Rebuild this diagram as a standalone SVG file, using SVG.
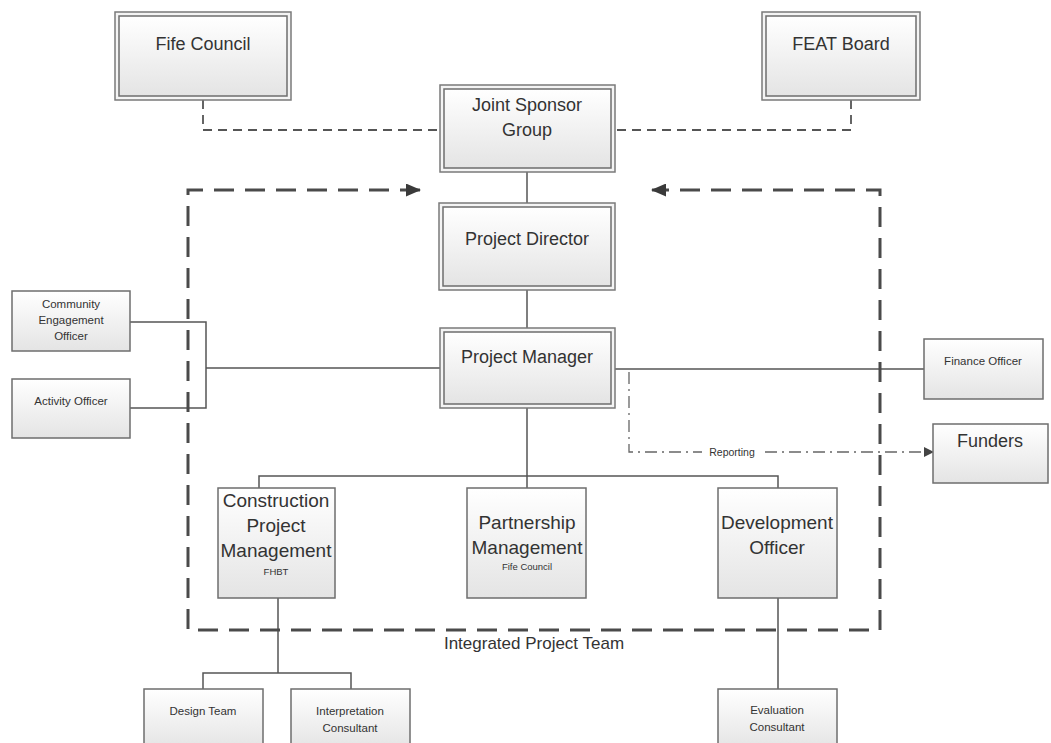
<svg xmlns="http://www.w3.org/2000/svg" width="1051" height="743" viewBox="0 0 1051 743">
<defs>
<linearGradient id="g" x1="0" y1="0" x2="0" y2="1">
<stop offset="0" stop-color="#ffffff"/>
<stop offset="1" stop-color="#e4e4e4"/>
</linearGradient>
<marker id="bigArrow" markerWidth="15" markerHeight="13" refX="14" refY="6.5" orient="auto" markerUnits="userSpaceOnUse">
<path d="M0,0 L15,6.5 L0,13 Z" fill="#3a3a3a"/>
</marker>
<marker id="smallArrow" markerWidth="10" markerHeight="10" refX="9" refY="5" orient="auto" markerUnits="userSpaceOnUse">
<path d="M0,0 L10,5 L0,10 Z" fill="#444"/>
</marker>
</defs>
<style>
.box{fill:url(#g);stroke:#6e6e6e;stroke-width:1.5}
.outer{fill:#f4f4f4;stroke:#7a7a7a;stroke-width:1.5}
.t{font-family:"Liberation Sans",Arial,sans-serif;fill:#333;text-anchor:middle}
.big{font-size:18px}
.mid{font-size:19px}
.sm{font-size:11.5px}
.xs{font-size:9.5px}
.line{fill:none;stroke:#555;stroke-width:1.5}
.dash{fill:none;stroke:#555;stroke-width:1.8;stroke-dasharray:9 6}
.ipt{fill:none;stroke:#4a4a4a;stroke-width:3;stroke-dasharray:20 11}
.rep{fill:none;stroke:#666;stroke-width:1.3;stroke-dasharray:12 5 2 5}
</style>
<rect width="1051" height="743" fill="#ffffff"/>

<g id="connectors">
<path class="dash" d="M203,100 V130 H440"/>
<path class="dash" d="M851,100 V130 H615"/>
<path class="line" d="M527,172 V203"/>
<path class="line" d="M527,290 V328"/>
<path class="line" d="M130,322 H206 V408 H130"/>
<path class="line" d="M206,368 H440"/>
<path class="line" d="M615,369 H924"/>
<path class="line" d="M527,408 V476"/>
<path class="line" d="M259,488 V476 H778 V488"/>
<path class="line" d="M527,476 V488"/>
<path class="line" d="M278,598 V673"/>
<path class="line" d="M203,689 V673 H351 V689"/>
<path class="line" d="M778,598 V689"/>
<path class="ipt" d="M420,190 H188 V630 H880 V190 H652"/>
<path d="M300,190 H420" fill="none" stroke="none" marker-end="url(#bigArrow)"/>
<path d="M760,190 H652" fill="none" stroke="none" marker-end="url(#bigArrow)"/>
<path class="rep" d="M629,372 V452 H933" marker-end="url(#smallArrow)"/>
<rect x="702" y="445" width="60" height="14" fill="#ffffff"/>
<text class="t" x="732" y="456" font-size="10.5px">Reporting</text>
<text class="t" x="534" y="649" font-size="17px">Integrated Project Team</text>
</g>

<g id="fife-council">
<rect class="outer" x="115" y="12" width="176" height="88"/>
<rect class="box" x="119" y="16" width="168" height="80"/>
<text class="t big" x="203" y="50">Fife Council</text>
</g>
<g id="feat-board">
<rect class="outer" x="762" y="12" width="158" height="88"/>
<rect class="box" x="766" y="16" width="150" height="80"/>
<text class="t big" x="841" y="50">FEAT Board</text>
</g>
<g id="joint-sponsor-group">
<rect class="outer" x="440" y="85" width="175" height="87"/>
<rect class="box" x="444" y="89" width="167" height="79"/>
<text class="t big" x="527" y="111">Joint Sponsor</text>
<text class="t big" x="527" y="136">Group</text>
</g>
<g id="project-director">
<rect class="outer" x="439" y="203" width="176" height="87"/>
<rect class="box" x="443" y="207" width="168" height="79"/>
<text class="t big" x="527" y="245">Project Director</text>
</g>
<g id="project-manager">
<rect class="outer" x="440" y="328" width="175" height="80"/>
<rect class="box" x="444" y="332" width="167" height="72"/>
<text class="t big" x="527" y="363">Project Manager</text>
</g>
<g id="community-engagement-officer">
<rect class="box" x="12" y="291" width="118" height="60"/>
<text class="t sm" x="71" y="308">Community</text>
<text class="t sm" x="71" y="324">Engagement</text>
<text class="t sm" x="71" y="340">Officer</text>
</g>
<g id="activity-officer">
<rect class="box" x="12" y="379" width="118" height="59"/>
<text class="t sm" x="71" y="405">Activity Officer</text>
</g>
<g id="finance-officer">
<rect class="box" x="924" y="339" width="119" height="60"/>
<text class="t sm" x="983" y="365">Finance Officer</text>
</g>
<g id="funders">
<rect class="box" x="933" y="424" width="115" height="59"/>
<text class="t big" x="990" y="447">Funders</text>
</g>
<g id="construction-project-management">
<rect class="box" x="218" y="488" width="117" height="110"/>
<text class="t mid" x="276" y="507">Construction</text>
<text class="t mid" x="276" y="532">Project</text>
<text class="t mid" x="276" y="557">Management</text>
<text class="t xs" x="276" y="575">FHBT</text>
</g>
<g id="partnership-management">
<rect class="box" x="467" y="488" width="119" height="110"/>
<text class="t mid" x="527" y="529">Partnership</text>
<text class="t mid" x="527" y="554">Management</text>
<text class="t xs" x="527" y="570">Fife Council</text>
</g>
<g id="development-officer">
<rect class="box" x="718" y="488" width="119" height="110"/>
<text class="t mid" x="777" y="529">Development</text>
<text class="t mid" x="777" y="554">Officer</text>
</g>
<g id="design-team">
<rect class="box" x="144" y="689" width="119" height="60"/>
<text class="t sm" x="203" y="715">Design Team</text>
</g>
<g id="interpretation-consultant">
<rect class="box" x="291" y="689" width="119" height="60"/>
<text class="t sm" x="350" y="715">Interpretation</text>
<text class="t sm" x="350" y="732">Consultant</text>
</g>
<g id="evaluation-consultant">
<rect class="box" x="718" y="689" width="119" height="60"/>
<text class="t sm" x="777" y="714">Evaluation</text>
<text class="t sm" x="777" y="731">Consultant</text>
</g>
</svg>
